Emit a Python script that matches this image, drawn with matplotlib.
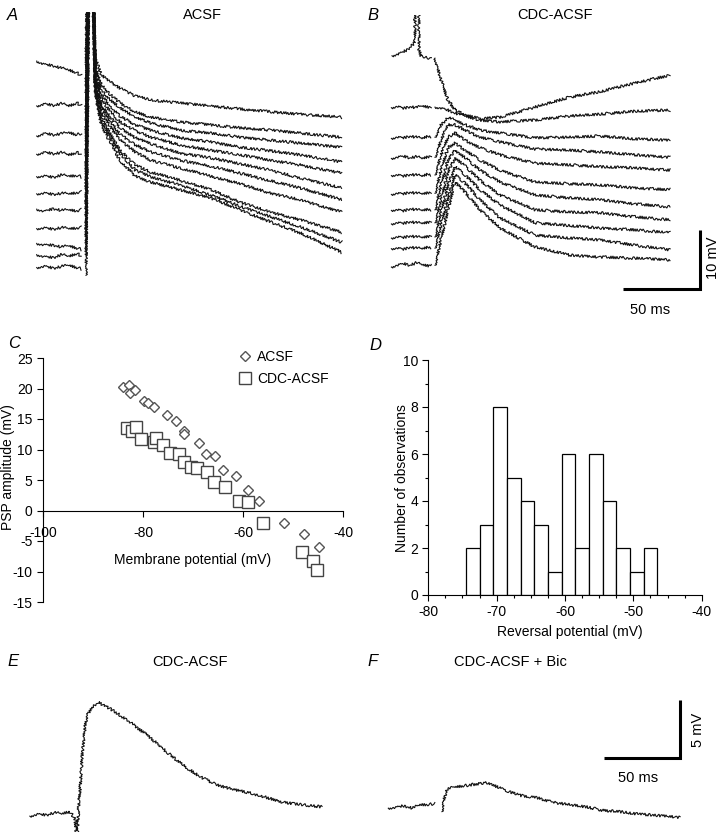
import matplotlib
matplotlib.use("Agg")
import matplotlib.pyplot as plt
from matplotlib.ticker import MultipleLocator

plt.rcParams['font.family'] = ['Liberation Sans', 'DejaVu Sans']
plt.rcParams['font.size'] = 10
plt.rcParams['axes.unicode_minus'] = False

W, H = 720, 832

# ---------------- data ----------------
# A: ACSF, 11 sweeps (ms from stimulus, mV display offset)
a_base_t = [-32, -27, -21, -16, -11, -6, -3]
a_base_v = [
    [37.1, 36.6, 36.3, 35.9, 35.6, 35.1, 34.7],
    [29.5, 29.9, 29.6, 29.9, 29.5, 30.0, 29.6],
    [24.4, 24.9, 24.6, 24.8, 25.0, 24.6, 24.9],
    [21.3, 21.7, 21.4, 21.6, 21.2, 21.6, 21.4],
    [17.5, 17.7, 17.4, 17.8, 17.6, 17.7, 17.5],
    [14.6, 14.8, 14.5, 14.7, 14.6, 14.8, 14.9],
    [12.0, 11.7, 12.1, 11.8, 11.9, 11.7, 11.9],
    [8.7, 8.9, 8.6, 8.9, 8.7, 8.8, 8.9],
    [6.2, 6.0, 5.9, 5.6, 5.8, 5.4, 5.2],
    [4.3, 4.0, 3.8, 4.3, 4.0, 4.5, 4.1],
    [2.1, 2.4, 2.0, 2.3, 2.5, 2.1, 1.9],
]
a_stim_v = [34.7, 29.6, 24.9, 21.4, 17.5, 14.9, 11.9, 8.9, 5.2, 4.1, 0.8]
a_spike_up = [1.3, 1.5, 1.7, 1.9, 2.1, 2.3, 1.4, 1.6, 1.8, 2.0, 2.2]
a_spike_down = [3.3, 3.5, 3.7, 3.9, 4.1, 4.3, 3.4, 3.6, 3.8, 4.0, 4.2]
a_decay_t = [6, 10, 16, 22, 32, 42, 61, 81, 100, 120, 139, 166]
a_decay_v = [
    [37.6, 34.7, 33.6, 32.5, 31.2, 30.5, 30.0, 29.5, 29.0, 28.5, 28.1, 27.6],
    [36.4, 33.1, 31.4, 30.0, 28.5, 27.6, 26.8, 26.3, 25.8, 25.4, 24.9, 24.2],
    [35.6, 32.2, 30.5, 29.2, 27.6, 26.6, 25.4, 24.9, 24.2, 23.7, 23.2, 22.5],
    [34.7, 31.4, 29.3, 27.8, 26.3, 25.4, 24.1, 23.4, 22.5, 21.9, 21.2, 20.0],
    [34.2, 30.5, 28.5, 26.8, 25.3, 24.2, 22.9, 22.0, 21.2, 20.3, 19.5, 18.1],
    [33.6, 29.7, 27.5, 25.8, 24.1, 23.1, 21.5, 20.7, 19.7, 18.6, 17.3, 15.6],
    [33.1, 29.2, 26.8, 24.7, 22.9, 21.7, 20.3, 19.3, 18.1, 16.8, 15.6, 13.6],
    [32.5, 28.5, 25.9, 23.7, 21.7, 20.3, 19.0, 17.6, 16.3, 14.7, 13.6, 11.5],
    [32.2, 27.5, 24.6, 22.0, 19.5, 18.3, 16.9, 15.3, 13.2, 11.5, 10.2, 8.1],
    [31.9, 27.1, 24.1, 21.4, 18.6, 17.5, 16.1, 14.4, 12.5, 10.7, 9.0, 6.4],
    [31.4, 26.3, 23.2, 20.3, 17.6, 16.6, 15.3, 13.9, 11.9, 9.8, 8.0, 4.7],
]
SPIKE = 60

# B: CDC-ACSF, 11 sweeps
b_first_t = [-26.6, -23.4, -20.1, -16.9, -13.6, -11.7, -11.6, -9.2, -9.1, -7.8, -4.5, -1.3]
b_first_v = [38.0, 38.3, 38.6, 39.0, 39.8, 40.3, 60, 60, 39.0, 38.0, 37.8, 37.5]
b_base_t = [-27, -23, -19, -15, -11, -7, -3, -1.3]
b_base_v = [
    [29.2, 29.5, 29.1, 29.4, 29.2, 29.5, 29.3, 29.4],
    [24.0, 24.3, 24.1, 24.4, 24.2, 24.0, 24.4, 24.3],
    [20.6, 20.9, 21.0, 20.7, 20.9, 20.6, 20.9, 21.1],
    [17.7, 17.9, 17.6, 17.9, 17.8, 17.6, 18.0, 17.8],
    [14.5, 14.8, 14.6, 14.9, 14.7, 14.6, 14.8, 14.9],
    [11.8, 12.0, 11.7, 12.1, 11.9, 11.8, 12.0, 11.9],
    [9.5, 9.8, 9.6, 9.9, 9.7, 9.6, 9.8, 10.0],
    [7.1, 7.4, 7.2, 7.5, 7.3, 7.2, 7.4, 7.6],
    [5.3, 5.5, 5.2, 5.6, 5.4, 5.3, 5.6, 5.5],
    [2.2, 2.6, 2.8, 2.5, 2.9, 2.6, 2.4, 2.7],
]
b_post_t = [1.3, 5.2, 9.7, 14.3, 20.8, 30.5, 43.5, 66.2, 89.0, 108.4, 131.2, 153.9]
b_post_v = [
    [37.6, 33.9, 30.5, 28.8, 28.0, 27.3, 27.6, 29.3, 31.0, 31.9, 33.4, 34.7],
    [29.3, 29.2, 28.8, 28.3, 27.8, 27.1, 26.8, 27.1, 27.8, 28.1, 28.6, 28.8],
    [24.2, 26.3, 27.5, 27.1, 26.3, 25.4, 24.9, 24.1, 24.2, 24.4, 23.9, 23.7],
    [20.8, 23.7, 26.3, 26.3, 25.4, 24.2, 23.4, 22.2, 22.0, 21.7, 21.2, 20.8],
    [17.8, 21.2, 24.2, 24.9, 23.7, 22.4, 21.2, 19.8, 19.5, 19.2, 19.0, 18.6],
    [14.7, 18.6, 22.4, 23.2, 22.0, 20.3, 18.6, 16.6, 16.3, 16.1, 15.6, 15.3],
    [11.9, 16.1, 20.3, 22.0, 20.7, 18.6, 16.6, 14.4, 13.9, 13.6, 12.9, 12.4],
    [9.7, 13.6, 18.3, 20.7, 19.3, 16.9, 14.4, 11.9, 11.5, 11.4, 10.7, 10.2],
    [7.3, 11.5, 16.1, 19.2, 17.8, 15.3, 12.7, 9.7, 9.2, 8.8, 8.5, 8.0],
    [5.4, 9.3, 13.9, 17.8, 16.4, 13.6, 10.5, 7.6, 7.1, 6.8, 5.9, 5.1],
    [2.5, 6.8, 11.9, 16.6, 14.9, 11.9, 8.8, 5.6, 4.2, 3.9, 3.7, 3.4],
]

# C: PSP amplitude vs membrane potential
acsf_vm = [-84.1, -82.9, -82.7, -81.6, -79.9, -79.1, -77.9, -75.3, -73.5, -71.9, -71.8,
           -68.9, -67.5, -65.6, -64.1, -61.5, -59.1, -56.9, -51.9, -47.8, -44.9]
acsf_psp = [20.2, 20.5, 19.3, 19.7, 17.9, 17.6, 16.9, 15.6, 14.6, 13.1, 12.6,
            11.1, 9.3, 9.0, 6.6, 5.6, 3.4, 1.5, -2.1, -3.9, -6.0]
cdc_vm = [-83.3, -82.3, -81.5, -80.5, -77.9, -77.5, -76.1, -74.6, -72.9, -71.9, -70.5,
          -69.3, -67.3, -65.9, -63.7, -60.8, -59.1, -56.1, -48.3, -46.1, -45.3]
cdc_psp = [13.6, 13.1, 13.7, 11.7, 11.2, 11.9, 10.8, 9.4, 9.3, 8.0, 7.2,
           6.9, 6.3, 4.6, 3.8, 1.6, 1.4, -2.1, -6.8, -8.2, -9.8]

# D: reversal potential histogram (2 mV bins)
rev_centers = [-73.5, -71.5, -69.5, -67.5, -65.5, -63.5, -61.5,
               -59.5, -57.5, -55.5, -53.5, -51.5, -49.5, -47.5]
rev_counts = [2, 3, 8, 5, 4, 3, 1, 6, 2, 6, 4, 2, 1, 2]

# E: CDC-ACSF averaged PSP
e_t = [-31, -26, -20, -15, -10, -5, -1.3, 0, 1.3, 2.0, 3.3, 5.3, 6.6, 10.5, 13.8, 17.1,
       26.3, 36.8, 48.0, 59.2, 69.7, 80.9, 92.1, 102.6, 113.8, 125.0, 135.5, 146.7, 161.2]
e_v = [-0.1, 0.1, 0.0, 0.2, 0.1, 0.3, -0.3, -2.6, 1.3, 2.2, 5.0, 7.6, 8.6, 9.3, 9.7, 9.5,
       8.8, 7.8, 6.7, 5.4, 4.3, 3.3, 2.6, 2.2, 1.9, 1.5, 1.1, 0.9, 0.7]

# F: CDC-ACSF + Bic
f_base_t = [-34, -29, -24, -18, -13, -8, -3.3]
f_base_v = [-0.1, 0.0, 0.1, -0.1, 0.2, 0.2, 0.3]
f_post_t = [1.3, 2.0, 4.6, 8.6, 19.7, 31.6, 41.4, 52.6, 63.8, 74.3, 85.5, 96.7,
            107.2, 118.4, 129.6, 140.1, 151.3, 157.9]
f_post_v = [-0.4, 0.4, 1.5, 1.7, 1.9, 2.1, 1.5, 1.0, 0.8, 0.4, 0.2, 0.0,
            -0.3, -0.4, -0.6, -0.7, -0.8, -0.9]

# ---------------- figure ----------------
fig = plt.figure(figsize=(W / 100, H / 100), dpi=100)


def px(x, y):
    return x / W, 1 - y / H


def trace_axes(left, top, right, bottom, x0, y0, sx, sy):
    # axes in ms / mV, placed in pixel box with data origin at (x0, y0)
    ax = fig.add_axes([left / W, 1 - bottom / H, (right - left) / W, (bottom - top) / H])
    ax.set_xlim((left - x0) / sx, (right - x0) / sx)
    ax.set_ylim((y0 - bottom) / sy, (y0 - top) / sy)
    ax.axis('off')
    return ax


def trace(ax, t, v, lw=0.8):
    ln, = ax.plot(t, v, color='#111111', lw=lw, solid_joinstyle='miter')
    ln.set_sketch_params(1.5, 2.2, 2.0)
    return ln


# A
ax_a = trace_axes(30, 12, 352, 290, 86, 280, 1.54, 5.9)
for i, (base, decay) in enumerate(zip(a_base_v, a_decay_v)):
    trace(ax_a, a_base_t, base)
    trace(ax_a, [0, a_spike_up[i], a_spike_down[i]] + a_decay_t,
          [a_stim_v[i], SPIKE, SPIKE] + decay)

# B
ax_b = trace_axes(380, 15, 720, 300, 433, 280, 1.54, 5.9)
trace(ax_b, b_first_t, b_first_v)
for base in b_base_v:
    trace(ax_b, b_base_t, base)
for post in b_post_v:
    trace(ax_b, b_post_t, post)
# 50 ms / 10 mV scale bar
bx, by = 173.4, -1.5
ax_b.plot([bx - 50, bx, bx], [by, by, by + 10], color='black', lw=2.2,
          solid_joinstyle='miter', solid_capstyle='butt', clip_on=False)

# E
ax_e = trace_axes(20, 690, 345, 832, 77, 815, 1.52, 11.6)
trace(ax_e, e_t, e_v)

# F
ax_f = trace_axes(375, 690, 720, 832, 440, 807, 1.52, 11.6)
trace(ax_f, f_base_t, f_base_v)
trace(ax_f, f_post_t, f_post_v)
fx, fy = 157.9, 4.2
ax_f.plot([fx - 50, fx, fx], [fy, fy, fy + 5], color='black', lw=2.2,
          solid_joinstyle='miter', solid_capstyle='butt', clip_on=False)

# C
ax_c = fig.add_axes([43 / W, 1 - 602 / H, 300 / W, 244 / H])
ax_c.plot(acsf_vm, acsf_psp, 'D', ms=5.5, mfc='white', mec='#555555', mew=1.0, label='ACSF')
ax_c.plot(cdc_vm, cdc_psp, 's', ms=8.5, mfc='white', mec='#444444', mew=1.0, label='CDC-ACSF')
ax_c.set_xlim(-100, -40)
ax_c.set_ylim(-15, 25)
ax_c.spines['top'].set_visible(False)
ax_c.spines['right'].set_visible(False)
ax_c.spines['bottom'].set_position(('data', 0))
ax_c.xaxis.set_major_locator(MultipleLocator(20))
ax_c.yaxis.set_major_locator(MultipleLocator(5))
ax_c.tick_params(direction='out', length=4, width=0.8, labelsize=10)
ax_c.tick_params(axis='x', pad=7)
ax_c.legend(loc='upper left', bbox_to_anchor=px(238, 350), bbox_transform=fig.transFigure,
            frameon=False, handlelength=1.0, handletextpad=0.4, labelspacing=0.55,
            borderaxespad=0, borderpad=0, fontsize=10, numpoints=1)

# D
ax_d = fig.add_axes([428.3 / W, 1 - 595 / H, 273.4 / W, 235 / H])
ax_d.bar(rev_centers, rev_counts, width=2, color='white', edgecolor='black', lw=0.9)
ax_d.set_xlim(-80, -40)
ax_d.set_ylim(0, 10)
ax_d.spines['top'].set_visible(False)
ax_d.spines['right'].set_visible(False)
ax_d.xaxis.set_major_locator(MultipleLocator(10))
ax_d.xaxis.set_minor_locator(MultipleLocator(2.5))
ax_d.yaxis.set_major_locator(MultipleLocator(2))
ax_d.yaxis.set_minor_locator(MultipleLocator(1))
ax_d.tick_params(which='major', direction='out', length=4, width=0.8, labelsize=10)
ax_d.tick_params(which='minor', direction='out', length=2.5, width=0.8)

for ax in (ax_c, ax_d):
    for s in ax.spines.values():
        s.set_linewidth(0.8)

# texts
lab = dict(fontsize=12, style='italic', ha='left', va='center')
fig.text(*px(7, 15), 'A', **lab)
fig.text(*px(367, 15), 'B', **lab)
fig.text(*px(8, 343), 'C', **lab)
fig.text(*px(369, 345), 'D', **lab)
fig.text(*px(7, 662), 'E', **lab)
fig.text(*px(367, 662), 'F', **lab)

ttl = dict(fontsize=10.5, ha='center', va='center')
fig.text(*px(202, 15), 'ACSF', **ttl)
fig.text(*px(555, 15), 'CDC-ACSF', **ttl)
fig.text(*px(190, 662), 'CDC-ACSF', **ttl)
fig.text(*px(510, 662), 'CDC-ACSF + Bic', **ttl)

fig.text(*px(713, 258), '10 mV', rotation=90, ha='center', va='center', fontsize=10.5)
fig.text(*px(650, 310), '50 ms', ha='center', va='center', fontsize=10.5)
fig.text(*px(698, 730), '5 mV', rotation=90, ha='center', va='center', fontsize=10.5)
fig.text(*px(638, 778), '50 ms', ha='center', va='center', fontsize=10.5)

fig.text(*px(193, 560), 'Membrane potential (mV)', ha='center', va='center', fontsize=10)
fig.text(*px(8, 467), 'PSP amplitude (mV)', rotation=90, ha='center', va='center', fontsize=10)
fig.text(*px(570, 632), 'Reversal potential (mV)', ha='center', va='center', fontsize=10)
fig.text(*px(402, 478), 'Number of observations', rotation=90, ha='center', va='center', fontsize=10)

fig.savefig('out.png', dpi=100)
